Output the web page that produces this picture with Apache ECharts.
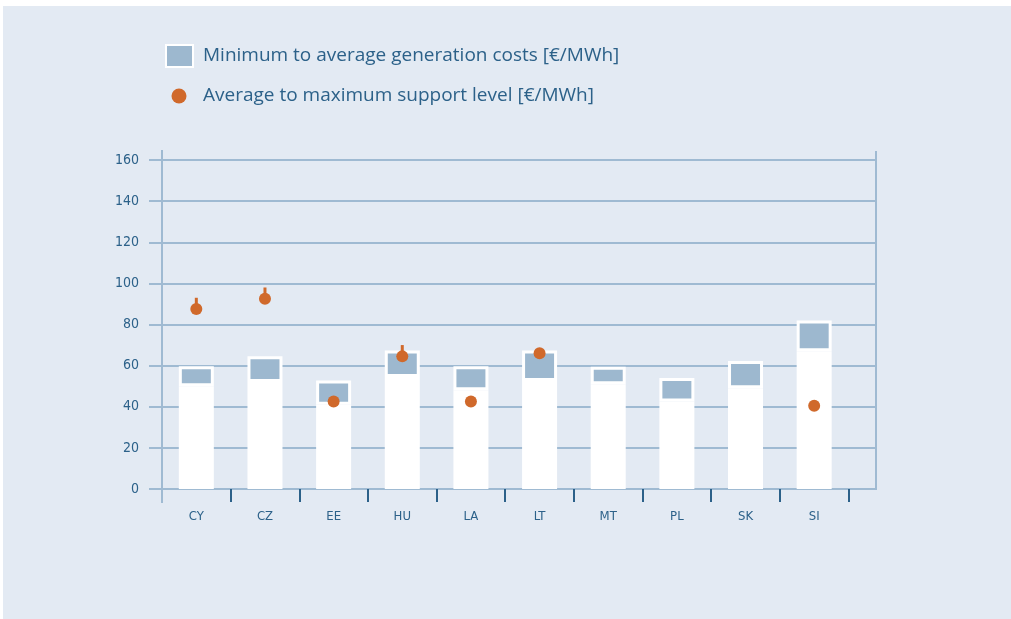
<!DOCTYPE html>
<html>
<head>
<meta charset="utf-8">
<script src="https://cdn.jsdelivr.net/npm/echarts@6/dist/echarts.min.js"></script>
<style>
  html, body { margin: 0; padding: 0; background: #ffffff; }
  #chart { position: absolute; left: 3px; top: 6px; width: 1008px; height: 613px; background: #e3eaf3; }
</style>
</head>
<body>
<div id="chart"></div>
<script>
// ---- data ----
var categories = ['CY', 'CZ', 'EE', 'HU', 'LA', 'LT', 'MT', 'PL', 'SK', 'SI'];
var costMin = [50, 52, 41, 54.5, 48, 52.5, 51, 42.5, 49, 67];
var costAvg = [59.7, 64.5, 52.8, 67.3, 59.7, 67.3, 59.5, 54, 62.2, 82];
var supportAvg = [87.5, 92.5, 42.5, 64.5, 42.5, 66, null, null, null, 40.5];
var supportMax = [93, 98, null, 70, null, null, null, null, null, null];
var yTicks = [0, 20, 40, 60, 80, 100, 120, 140, 160];

var seriesCostName = 'Minimum to average generation costs [€/MWh]';
var seriesSupportName = 'Average to maximum support level [€/MWh]';

var BLUE = '#9db8cf';
var ORANGE = '#d0692b';
var TEXT = '#2c6189';
var LINE = '#9fbad2';
var CONDENSED = '"DejaVu Sans Condensed", "Liberation Sans Narrow", "Open Sans", sans-serif';

var costRange = costAvg.map(function (v, i) { return +(v - costMin[i]).toFixed(2); });
var whiskers = [];
supportMax.forEach(function (m, i) { if (m != null) whiskers.push([i, supportAvg[i], m]); });

var chart = echarts.init(document.getElementById('chart'));
chart.setOption({
  animation: false,
  textStyle: { fontFamily: 'Open Sans' },
  legend: [
    {
      left: 162, top: 38, padding: 0, orient: 'vertical',
      itemWidth: 27, itemHeight: 22,
      data: [{ name: seriesCostName, icon: 'rect' }],
      textStyle: { color: TEXT, fontSize: 19, fontFamily: 'Open Sans', padding: [0, 0, 0, 5] }
    },
    {
      left: 168.5, top: 80.5, padding: 0, orient: 'vertical',
      itemWidth: 15, itemHeight: 15,
      data: [{ name: seriesSupportName, icon: 'circle' }],
      textStyle: { color: TEXT, fontSize: 19, fontFamily: 'Open Sans', padding: [0, 0, 0, 11.5] }
    }
  ],
  grid: [
    { left: 159, right: 135, top: 154, bottom: 130 },
    { left: 159, right: 162.5, top: 154, bottom: 130 }
  ],
  xAxis: [
    { gridIndex: 0, type: 'value', min: 0, max: 1, show: false },
    {
      gridIndex: 1, type: 'category', data: categories,
      axisLine: { show: false },
      axisTick: {
        show: true, length: 13, interval: function (i) { return i > 0; },
        lineStyle: { color: '#2c6189', width: 2 }
      },
      axisLabel: { color: TEXT, fontSize: 13, fontFamily: CONDENSED, margin: 21 }
    }
  ],
  yAxis: [
    {
      gridIndex: 0, type: 'value', min: yTicks[0], max: yTicks[yTicks.length - 1], interval: 20,
      axisLine: { show: false },
      axisTick: { show: true, length: 13, lineStyle: { color: LINE, width: 2 } },
      splitLine: { show: true, lineStyle: { color: LINE, width: 2 } },
      axisLabel: { color: TEXT, fontSize: 14, fontFamily: CONDENSED, margin: 23 }
    },
    { gridIndex: 1, type: 'value', min: 0, max: 160, show: false }
  ],
  series: [
    {
      type: 'custom', xAxisIndex: 0, yAxisIndex: 0, silent: true, z: 1,
      data: [[0]],
      renderItem: function (params, api) {
        var tl = api.coord([0, 160]), bl = api.coord([0, 0]);
        var tr = api.coord([1, 160]), br = api.coord([1, 0]);
        var st = { stroke: LINE, lineWidth: 2 };
        return {
          type: 'group', children: [
            { type: 'line', shape: { x1: tl[0], y1: tl[1] - 10, x2: bl[0], y2: bl[1] + 14 }, style: st },
            { type: 'line', shape: { x1: tr[0], y1: tr[1] - 9, x2: br[0], y2: br[1] + 1 }, style: st }
          ]
        };
      }
    },
    {
      name: 'base', type: 'bar', xAxisIndex: 1, yAxisIndex: 1, stack: 'cost', barWidth: 35,
      silent: true, data: costMin,
      itemStyle: { color: '#ffffff', borderColor: '#ffffff', borderWidth: 3 }
    },
    {
      name: seriesCostName, type: 'bar', xAxisIndex: 1, yAxisIndex: 1, stack: 'cost', barWidth: 35,
      data: costRange,
      itemStyle: { color: BLUE, borderColor: '#ffffff', borderWidth: 3 }
    },
    {
      type: 'custom', xAxisIndex: 1, yAxisIndex: 1, silent: true, z: 3,
      data: whiskers,
      renderItem: function (params, api) {
        var a = api.coord([api.value(0), api.value(1)]);
        var b = api.coord([api.value(0), api.value(2)]);
        return { type: 'line', shape: { x1: a[0], y1: a[1], x2: b[0], y2: b[1] }, style: { stroke: ORANGE, lineWidth: 3 } };
      }
    },
    {
      name: seriesSupportName, type: 'scatter', xAxisIndex: 1, yAxisIndex: 1, z: 4,
      symbol: 'circle', symbolSize: 12, data: supportAvg,
      itemStyle: { color: ORANGE, opacity: 1 }
    }
  ]
});
</script>
</body>
</html>
